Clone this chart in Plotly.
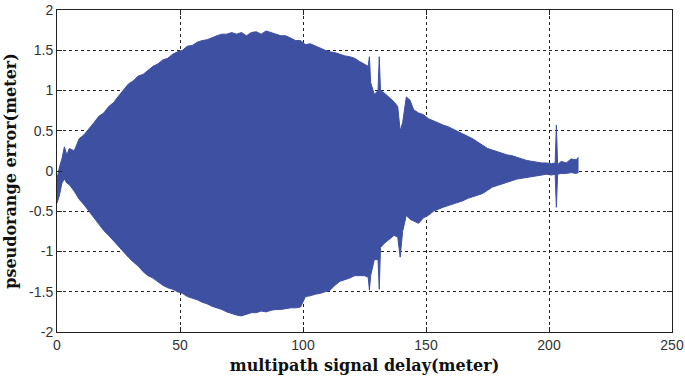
import plotly.graph_objects as go

# Envelope of the multipath pseudorange error oscillation
delay = [0, 1, 2, 3, 4, 5, 7, 9, 11, 13, 15, 17, 19, 21, 23, 25, 27, 29, 31, 33,
         35, 37, 39, 41, 43, 45, 47, 49, 51, 53, 55, 57, 59, 61, 63, 65, 67, 69, 71, 73,
         75, 77, 79, 81, 83, 85, 87, 89, 91, 93, 95, 97, 99, 101, 103, 105, 107, 109, 111, 113,
         115, 117, 119, 121, 123, 125, 126.5, 127, 127.5, 129, 130.5, 131, 131.5, 133, 135, 137,
         138.5, 139.5, 140.5, 142, 143.5, 145, 147, 149, 151, 153, 155, 157, 159, 161, 163, 165,
         167, 169, 171, 173, 175, 177, 179, 181, 183, 185, 187, 189, 191, 193, 195, 197, 199, 201,
         202.5, 203, 203.5, 205, 207, 209, 211, 212]

upper = [-0.1, 0.05, 0.15, 0.3, 0.2, 0.28, 0.25, 0.4, 0.45, 0.52, 0.6, 0.68, 0.72, 0.8, 0.85, 0.93, 1.0, 1.08, 1.12, 1.18,
         1.2, 1.25, 1.3, 1.33, 1.38, 1.4, 1.45, 1.48, 1.5, 1.55, 1.56, 1.6, 1.62, 1.63, 1.66, 1.68, 1.7, 1.7, 1.72, 1.7,
         1.72, 1.68, 1.72, 1.73, 1.7, 1.74, 1.72, 1.7, 1.68, 1.68, 1.65, 1.62, 1.62, 1.57, 1.58, 1.55, 1.53, 1.5, 1.48, 1.47,
         1.45, 1.43, 1.42, 1.4, 1.36, 1.32, 1.3, 1.42, 1.1, 0.95, 1.0, 1.42, 1.0, 0.97, 0.92, 0.86,
         0.8, 0.5, 0.6, 0.92, 0.88, 0.76, 0.72, 0.7, 0.65, 0.62, 0.6, 0.57, 0.55, 0.52, 0.5, 0.46,
         0.44, 0.4, 0.36, 0.32, 0.28, 0.26, 0.24, 0.22, 0.2, 0.19, 0.17, 0.15, 0.13, 0.12, 0.11, 0.1, 0.1, 0.09,
         0.1, 0.57, 0.08, 0.12, 0.1, 0.15, 0.14, 0.17]

lower = [-0.4, -0.3, -0.15, -0.1, -0.15, -0.17, -0.25, -0.35, -0.42, -0.5, -0.58, -0.67, -0.74, -0.8, -0.87, -0.93, -1.0, -1.07, -1.13, -1.18,
         -1.25, -1.3, -1.33, -1.38, -1.42, -1.45, -1.47, -1.5, -1.52, -1.56, -1.58, -1.6, -1.63, -1.65, -1.68, -1.7, -1.72, -1.75, -1.77, -1.79,
         -1.8, -1.78, -1.76, -1.76, -1.74, -1.75, -1.73, -1.72, -1.72, -1.71, -1.7, -1.7, -1.69, -1.56, -1.55, -1.53, -1.52, -1.5, -1.48, -1.42,
         -1.37, -1.35, -1.33, -1.3, -1.3, -1.3, -1.32, -1.48, -1.3, -1.1, -1.1, -1.47, -0.95, -0.9, -0.85, -0.8,
         -0.82, -1.07, -0.75, -0.55, -0.6, -0.62, -0.65, -0.58, -0.55, -0.5, -0.47, -0.45, -0.43, -0.41, -0.39, -0.37,
         -0.34, -0.32, -0.3, -0.28, -0.24, -0.2, -0.18, -0.16, -0.14, -0.12, -0.1, -0.09, -0.08, -0.07, -0.06, -0.05, -0.04, -0.05,
         -0.04, -0.45, -0.04, -0.03, -0.03, -0.02, -0.03, -0.02]

x_ticks = [0, 50, 100, 150, 200, 250]
x_tick_labels = ["0", "50", "100", "150", "200", "250"]
y_ticks = [-2, -1.5, -1, -0.5, 0, 0.5, 1, 1.5, 2]
y_tick_labels = ["-2", "-1.5", "-1", "-0.5", "0", "0.5", "1", "1.5", "2"]

color = "#3E50A2"

fig = go.Figure()
fig.add_trace(go.Scatter(x=delay, y=lower, mode="lines", line=dict(color=color, width=1),
                         showlegend=False, hoverinfo="skip"))
fig.add_trace(go.Scatter(x=delay, y=upper, mode="lines", line=dict(color=color, width=1),
                         fill="tonexty", fillcolor=color, showlegend=False))

axis_common = dict(
    showline=True, linecolor="#222", linewidth=1, mirror="ticks",
    ticks="inside", ticklen=5, tickcolor="#222",
    showgrid=True, gridcolor="#222", gridwidth=1, griddash="3px,3px",
    zeroline=False, automargin=False,
    tickfont=dict(family="Liberation Sans, Arial, sans-serif", size=14, color="#333"),
)

title_font = dict(family="DejaVu Serif, serif", size=16, color="#111", weight="bold")

fig.update_xaxes(range=[0, 250], tickvals=x_ticks, ticktext=x_tick_labels,
                 title=dict(text="multipath signal delay(meter)", standoff=8, font=title_font),
                 **axis_common)
fig.update_yaxes(range=[-2, 2], tickvals=y_ticks, ticktext=y_tick_labels,
                 title=dict(text="pseudorange error(meter)", standoff=8, font=title_font),
                 **axis_common)

fig.update_layout(
    width=685, height=383,
    margin=dict(l=57, r=13, t=10, b=51),
    paper_bgcolor="white", plot_bgcolor="white",
)

fig.write_html("out.html")
